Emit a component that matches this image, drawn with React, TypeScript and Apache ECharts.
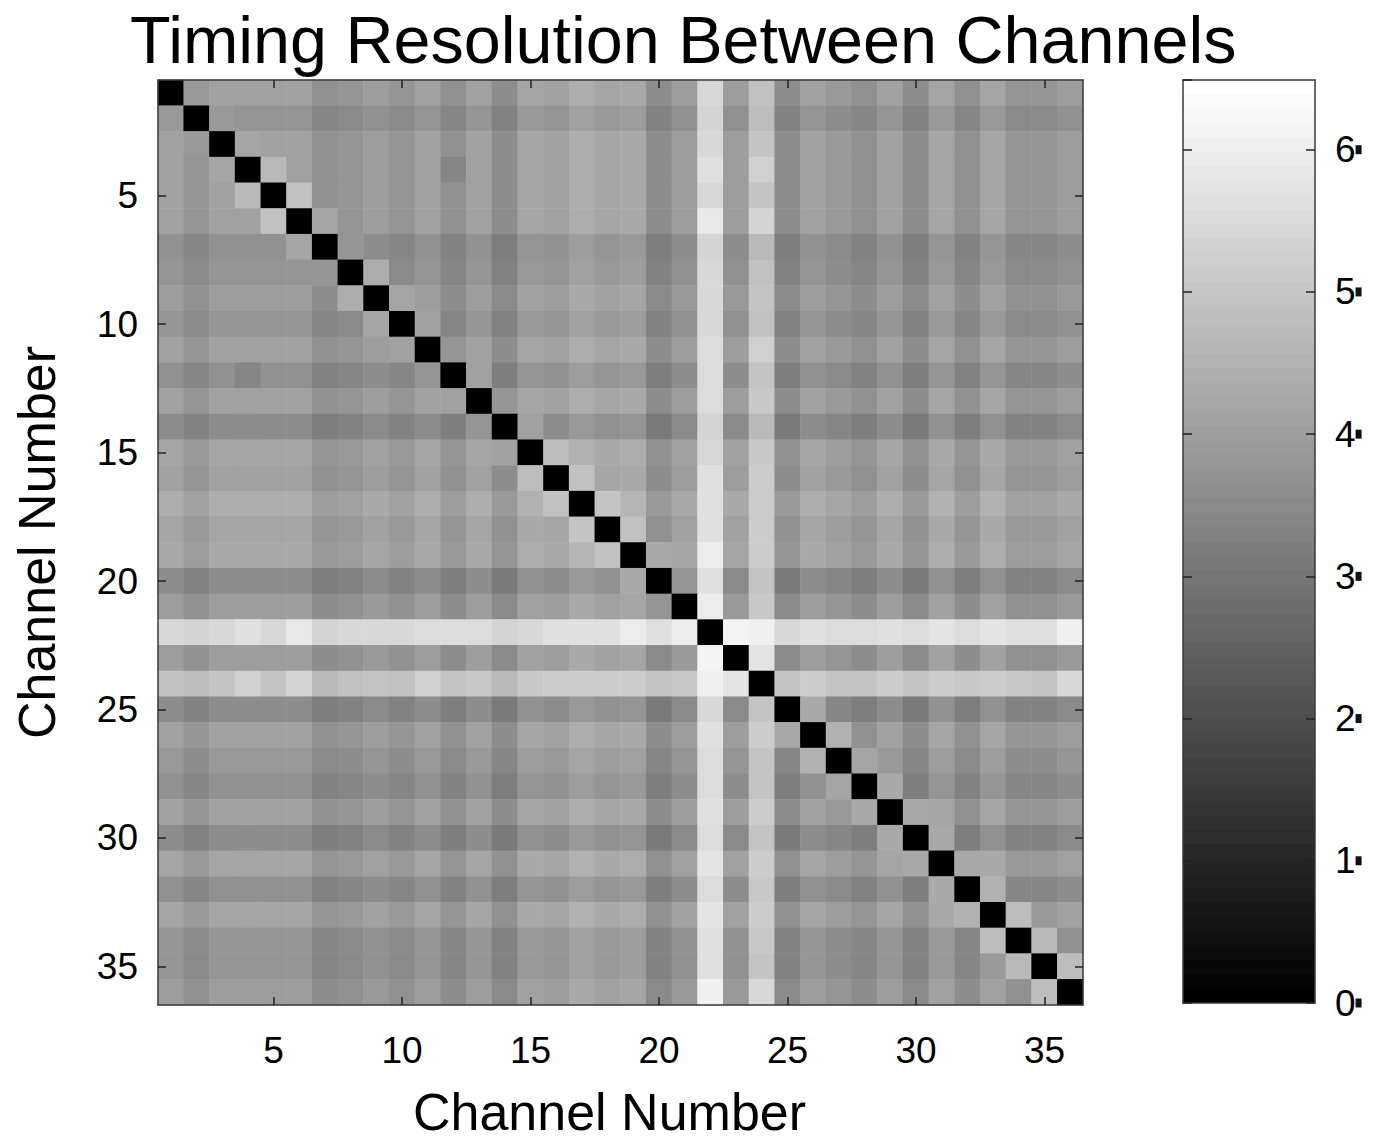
import React, { useEffect, useRef } from "react";
import * as echarts from "echarts";

const channels = [
  "1", "2", "3", "4", "5", "6", "7", "8", "9", "10", "11", "12",
  "13", "14", "15", "16", "17", "18", "19", "20", "21", "22", "23", "24",
  "25", "26", "27", "28", "29", "30", "31", "32", "33", "34", "35", "36",
];
const labeledChannels = ["5", "10", "15", "20", "25", "30", "35"];
const colorbarTicks = [0, 1, 2, 3, 4, 5, 6];
const colorMin = 0;
const colorMax = 6.49;

const r01 = [0, 3.9, 4.1, 4.1, 4.1, 4.1, 3.7, 3.8, 4.0, 3.8, 4.1, 3.7, 4.1, 3.6, 4.2, 4.1, 4.4, 4.2, 4.3, 3.6, 4.0, 5.5, 4.0, 4.9, 3.6, 4.1, 3.9, 3.7, 4.1, 3.6, 4.2, 3.7, 4.2, 3.8, 3.8, 4.0];
const r02 = [3.9, 0, 3.9, 3.8, 3.8, 3.8, 3.4, 3.5, 3.7, 3.5, 3.8, 3.4, 3.8, 3.3, 3.9, 3.8, 4.1, 3.9, 4.0, 3.3, 3.7, 5.4, 3.7, 4.8, 3.3, 3.8, 3.6, 3.4, 3.8, 3.3, 3.9, 3.4, 3.9, 3.5, 3.5, 3.7];
const r03 = [4.1, 3.9, 0, 4.2, 4.1, 4.1, 3.7, 3.8, 4.0, 3.8, 4.1, 3.7, 4.1, 3.6, 4.2, 4.1, 4.4, 4.2, 4.3, 3.6, 4.0, 5.5, 4.0, 5.0, 3.6, 4.1, 3.9, 3.7, 4.1, 3.6, 4.2, 3.7, 4.2, 3.8, 3.8, 4.0];
const r04 = [4.1, 3.8, 4.2, 0, 4.7, 4.1, 3.7, 3.8, 4.0, 3.8, 4.1, 3.4, 4.1, 3.6, 4.2, 4.1, 4.4, 4.2, 4.3, 3.6, 4.0, 5.7, 4.0, 5.3, 3.6, 4.1, 3.9, 3.7, 4.1, 3.6, 4.2, 3.7, 4.2, 3.8, 3.8, 4.0];
const r05 = [4.1, 3.8, 4.1, 4.7, 0, 4.9, 3.7, 3.8, 4.0, 3.8, 4.1, 3.7, 4.1, 3.6, 4.2, 4.1, 4.4, 4.2, 4.3, 3.6, 4.0, 5.5, 4.0, 5.0, 3.6, 4.1, 3.9, 3.7, 4.1, 3.6, 4.2, 3.7, 4.2, 3.8, 3.8, 4.0];
const r06 = [4.1, 3.8, 4.1, 4.1, 4.9, 0, 4.2, 3.8, 4.0, 3.8, 4.1, 3.7, 4.1, 3.6, 4.2, 4.1, 4.4, 4.2, 4.3, 3.6, 4.0, 5.9, 4.0, 5.4, 3.6, 4.1, 3.9, 3.7, 4.1, 3.6, 4.2, 3.7, 4.2, 3.8, 3.8, 4.0];
const r07 = [3.7, 3.4, 3.7, 3.7, 3.7, 4.2, 0, 3.8, 3.6, 3.4, 3.7, 3.3, 3.7, 3.2, 3.8, 3.7, 4.0, 3.8, 3.9, 3.2, 3.6, 5.4, 3.6, 4.7, 3.2, 3.7, 3.5, 3.3, 3.7, 3.2, 3.8, 3.3, 3.8, 3.4, 3.4, 3.6];
const r08 = [3.8, 3.5, 3.8, 3.8, 3.8, 3.8, 3.8, 0, 4.4, 3.5, 3.8, 3.4, 3.8, 3.3, 3.9, 3.8, 4.1, 3.9, 4.0, 3.3, 3.7, 5.5, 3.7, 4.9, 3.3, 3.8, 3.6, 3.4, 3.8, 3.3, 3.9, 3.4, 3.9, 3.5, 3.5, 3.7];
const r09 = [4.0, 3.7, 4.0, 4.0, 4.0, 4.0, 3.6, 4.4, 0, 4.2, 4.0, 3.6, 4.0, 3.5, 4.1, 4.0, 4.3, 4.1, 4.2, 3.5, 3.9, 5.5, 3.9, 5.0, 3.5, 4.0, 3.8, 3.6, 4.0, 3.5, 4.1, 3.6, 4.1, 3.7, 3.7, 3.9];
const r10 = [3.8, 3.5, 3.8, 3.8, 3.8, 3.8, 3.4, 3.5, 4.2, 0, 4.1, 3.4, 3.8, 3.3, 3.9, 3.8, 4.1, 3.9, 4.0, 3.3, 3.7, 5.5, 3.7, 4.9, 3.3, 3.8, 3.6, 3.4, 3.8, 3.3, 3.9, 3.4, 3.9, 3.5, 3.5, 3.7];
const r11 = [4.1, 3.8, 4.1, 4.1, 4.1, 4.1, 3.7, 3.8, 4.0, 4.1, 0, 3.8, 4.1, 3.6, 4.2, 4.1, 4.4, 4.2, 4.3, 3.6, 4.0, 5.6, 4.0, 5.3, 3.6, 4.1, 3.9, 3.7, 4.1, 3.6, 4.2, 3.7, 4.2, 3.8, 3.8, 4.0];
const r12 = [3.7, 3.4, 3.7, 3.4, 3.7, 3.7, 3.3, 3.4, 3.6, 3.4, 3.8, 0, 4.1, 3.2, 3.8, 3.7, 4.0, 3.8, 3.9, 3.2, 3.6, 5.6, 3.6, 5.0, 3.2, 3.7, 3.5, 3.3, 3.7, 3.2, 3.8, 3.3, 3.8, 3.4, 3.4, 3.6];
const r13 = [4.1, 3.8, 4.1, 4.1, 4.1, 4.1, 3.7, 3.8, 4.0, 3.8, 4.1, 4.1, 0, 3.8, 4.2, 4.1, 4.4, 4.2, 4.3, 3.6, 4.0, 5.6, 4.0, 5.1, 3.6, 4.1, 3.9, 3.7, 4.1, 3.6, 4.2, 3.7, 4.2, 3.8, 3.8, 4.0];
const r14 = [3.6, 3.3, 3.6, 3.6, 3.6, 3.6, 3.2, 3.3, 3.5, 3.3, 3.6, 3.2, 3.8, 0, 4.1, 3.6, 3.9, 3.7, 3.8, 3.1, 3.5, 5.4, 3.5, 4.7, 3.1, 3.6, 3.4, 3.2, 3.6, 3.1, 3.7, 3.2, 3.7, 3.3, 3.3, 3.5];
const r15 = [4.2, 3.9, 4.2, 4.2, 4.2, 4.2, 3.8, 3.9, 4.1, 3.9, 4.2, 3.8, 4.2, 4.1, 0, 4.8, 4.5, 4.3, 4.4, 3.7, 4.1, 5.5, 4.1, 5.1, 3.7, 4.2, 4.0, 3.8, 4.2, 3.7, 4.3, 3.8, 4.3, 3.9, 3.9, 4.1];
const r16 = [4.1, 3.8, 4.1, 4.1, 4.1, 4.1, 3.7, 3.8, 4.0, 3.8, 4.1, 3.7, 4.1, 3.6, 4.8, 0, 4.9, 4.2, 4.3, 3.6, 4.0, 5.7, 4.0, 5.2, 3.6, 4.1, 3.9, 3.7, 4.1, 3.6, 4.2, 3.7, 4.2, 3.8, 3.8, 4.0];
const r17 = [4.4, 4.1, 4.4, 4.4, 4.4, 4.4, 4.0, 4.1, 4.3, 4.1, 4.4, 4.0, 4.4, 3.9, 4.5, 4.9, 0, 5.0, 4.6, 3.9, 4.3, 5.7, 4.3, 5.2, 3.9, 4.4, 4.2, 4.0, 4.4, 3.9, 4.5, 4.0, 4.5, 4.1, 4.1, 4.3];
const r18 = [4.2, 3.9, 4.2, 4.2, 4.2, 4.2, 3.8, 3.9, 4.1, 3.9, 4.2, 3.8, 4.2, 3.7, 4.3, 4.2, 5.0, 0, 4.9, 3.7, 4.1, 5.7, 4.1, 5.2, 3.7, 4.2, 4.0, 3.8, 4.2, 3.7, 4.3, 3.8, 4.3, 3.9, 3.9, 4.1];
const r19 = [4.3, 4.0, 4.3, 4.3, 4.3, 4.3, 3.9, 4.0, 4.2, 4.0, 4.3, 3.9, 4.3, 3.8, 4.4, 4.3, 4.6, 4.9, 0, 4.3, 4.2, 6.0, 4.2, 5.2, 3.8, 4.3, 4.1, 3.9, 4.3, 3.8, 4.4, 3.9, 4.4, 4.0, 4.0, 4.2];
const r20 = [3.6, 3.3, 3.6, 3.6, 3.6, 3.6, 3.2, 3.3, 3.5, 3.3, 3.6, 3.2, 3.6, 3.1, 3.7, 3.6, 3.9, 3.7, 4.3, 0, 3.8, 5.7, 3.5, 5.0, 3.1, 3.6, 3.4, 3.2, 3.6, 3.1, 3.7, 3.2, 3.7, 3.3, 3.3, 3.5];
const r21 = [4.0, 3.7, 4.0, 4.0, 4.0, 4.0, 3.6, 3.7, 3.9, 3.7, 4.0, 3.6, 4.0, 3.5, 4.1, 4.0, 4.3, 4.1, 4.2, 3.8, 0, 6.0, 3.9, 5.1, 3.5, 4.0, 3.8, 3.6, 4.0, 3.5, 4.1, 3.6, 4.1, 3.7, 3.7, 3.9];
const r22 = [5.5, 5.4, 5.5, 5.7, 5.5, 5.9, 5.4, 5.5, 5.5, 5.5, 5.6, 5.6, 5.6, 5.4, 5.5, 5.7, 5.7, 5.7, 6.0, 5.7, 6.0, 0, 6.2, 6.1, 5.5, 5.7, 5.6, 5.6, 5.7, 5.6, 5.8, 5.6, 5.8, 5.7, 5.7, 6.1];
const r23 = [4.0, 3.7, 4.0, 4.0, 4.0, 4.0, 3.6, 3.7, 3.9, 3.7, 4.0, 3.6, 4.0, 3.5, 4.1, 4.0, 4.3, 4.1, 4.2, 3.5, 3.9, 6.2, 0, 5.8, 3.5, 4.0, 3.8, 3.6, 4.0, 3.5, 4.1, 3.6, 4.1, 3.7, 3.7, 3.9];
const r24 = [4.9, 4.8, 5.0, 5.3, 5.0, 5.4, 4.7, 4.9, 5.0, 4.9, 5.3, 5.0, 5.1, 4.7, 5.1, 5.2, 5.2, 5.2, 5.2, 5.0, 5.1, 6.1, 5.8, 0, 5.0, 5.2, 5.0, 5.0, 5.2, 5.0, 5.2, 5.1, 5.2, 5.1, 5.0, 5.5];
const r25 = [3.6, 3.3, 3.6, 3.6, 3.6, 3.6, 3.2, 3.3, 3.5, 3.3, 3.6, 3.2, 3.6, 3.1, 3.7, 3.6, 3.9, 3.7, 3.8, 3.1, 3.5, 5.5, 3.5, 5.0, 0, 4.3, 3.4, 3.2, 3.6, 3.1, 3.7, 3.2, 3.7, 3.3, 3.3, 3.5];
const r26 = [4.1, 3.8, 4.1, 4.1, 4.1, 4.1, 3.7, 3.8, 4.0, 3.8, 4.1, 3.7, 4.1, 3.6, 4.2, 4.1, 4.4, 4.2, 4.3, 3.6, 4.0, 5.7, 4.0, 5.2, 4.3, 0, 4.5, 3.7, 4.1, 3.6, 4.2, 3.7, 4.2, 3.8, 3.8, 4.0];
const r27 = [3.9, 3.6, 3.9, 3.9, 3.9, 3.9, 3.5, 3.6, 3.8, 3.6, 3.9, 3.5, 3.9, 3.4, 4.0, 3.9, 4.2, 4.0, 4.1, 3.4, 3.8, 5.6, 3.8, 5.0, 3.4, 4.5, 0, 4.2, 3.9, 3.4, 4.0, 3.5, 4.0, 3.6, 3.6, 3.8];
const r28 = [3.7, 3.4, 3.7, 3.7, 3.7, 3.7, 3.3, 3.4, 3.6, 3.4, 3.7, 3.3, 3.7, 3.2, 3.8, 3.7, 4.0, 3.8, 3.9, 3.2, 3.6, 5.6, 3.6, 5.0, 3.2, 3.7, 4.2, 0, 4.3, 3.2, 3.8, 3.3, 3.8, 3.4, 3.4, 3.6];
const r29 = [4.1, 3.8, 4.1, 4.1, 4.1, 4.1, 3.7, 3.8, 4.0, 3.8, 4.1, 3.7, 4.1, 3.6, 4.2, 4.1, 4.4, 4.2, 4.3, 3.6, 4.0, 5.7, 4.0, 5.2, 3.6, 4.1, 3.9, 4.3, 0, 4.3, 4.2, 3.7, 4.2, 3.8, 3.8, 4.0];
const r30 = [3.6, 3.3, 3.6, 3.6, 3.6, 3.6, 3.2, 3.3, 3.5, 3.3, 3.6, 3.2, 3.6, 3.1, 3.7, 3.6, 3.9, 3.7, 3.8, 3.1, 3.5, 5.6, 3.5, 5.0, 3.1, 3.6, 3.4, 3.2, 4.3, 0, 4.3, 3.2, 3.7, 3.3, 3.3, 3.5];
const r31 = [4.2, 3.9, 4.2, 4.2, 4.2, 4.2, 3.8, 3.9, 4.1, 3.9, 4.2, 3.8, 4.2, 3.7, 4.3, 4.2, 4.5, 4.3, 4.4, 3.7, 4.1, 5.8, 4.1, 5.2, 3.7, 4.2, 4.0, 3.8, 4.2, 4.3, 0, 4.3, 4.3, 3.9, 3.9, 4.1];
const r32 = [3.7, 3.4, 3.7, 3.7, 3.7, 3.7, 3.3, 3.4, 3.6, 3.4, 3.7, 3.3, 3.7, 3.2, 3.8, 3.7, 4.0, 3.8, 3.9, 3.2, 3.6, 5.6, 3.6, 5.1, 3.2, 3.7, 3.5, 3.3, 3.7, 3.2, 4.3, 0, 4.5, 3.4, 3.4, 3.6];
const r33 = [4.2, 3.9, 4.2, 4.2, 4.2, 4.2, 3.8, 3.9, 4.1, 3.9, 4.2, 3.8, 4.2, 3.7, 4.3, 4.2, 4.5, 4.3, 4.4, 3.7, 4.1, 5.8, 4.1, 5.2, 3.7, 4.2, 4.0, 3.8, 4.2, 3.7, 4.3, 4.5, 0, 4.8, 3.9, 4.1];
const r34 = [3.8, 3.5, 3.8, 3.8, 3.8, 3.8, 3.4, 3.5, 3.7, 3.5, 3.8, 3.4, 3.8, 3.3, 3.9, 3.8, 4.1, 3.9, 4.0, 3.3, 3.7, 5.7, 3.7, 5.1, 3.3, 3.8, 3.6, 3.4, 3.8, 3.3, 3.9, 3.4, 4.8, 0, 4.7, 3.7];
const r35 = [3.8, 3.5, 3.8, 3.8, 3.8, 3.8, 3.4, 3.5, 3.7, 3.5, 3.8, 3.4, 3.8, 3.3, 3.9, 3.8, 4.1, 3.9, 4.0, 3.3, 3.7, 5.7, 3.7, 5.0, 3.3, 3.8, 3.6, 3.4, 3.8, 3.3, 3.9, 3.4, 3.9, 4.7, 0, 4.8];
const r36 = [4.0, 3.7, 4.0, 4.0, 4.0, 4.0, 3.6, 3.7, 3.9, 3.7, 4.0, 3.6, 4.0, 3.5, 4.1, 4.0, 4.3, 4.1, 4.2, 3.5, 3.9, 6.1, 3.9, 5.5, 3.5, 4.0, 3.8, 3.6, 4.0, 3.5, 4.1, 3.6, 4.1, 3.7, 4.8, 0];

const resolution = [
  r01, r02, r03, r04, r05, r06, r07, r08, r09, r10, r11, r12,
  r13, r14, r15, r16, r17, r18, r19, r20, r21, r22, r23, r24,
  r25, r26, r27, r28, r29, r30, r31, r32, r33, r34, r35, r36,
];

const FONT = "'Liberation Sans', Arial, Helvetica, sans-serif";
const FRAME = "#3a3a3a";

export default function App() {
  const ref = useRef<HTMLDivElement>(null);

  useEffect(() => {
    const el = ref.current;
    if (!el) return;
    const chart = echarts.init(el, null, { renderer: "svg" });

    const cells: number[][] = [];
    resolution.forEach((row, i) => {
      row.forEach((v, j) => {
        cells.push([j, i, v]);
      });
    });

    const showAt = (index: number) => labeledChannels.includes(channels[index]);

    // 64-step gray colormap like MATLAB's colorbar
    const stops: { offset: number; color: string }[] = [];
    const steps = 64;
    for (let k = 0; k < steps; k++) {
      const g = Math.round((k / (steps - 1)) * 255);
      const c = `rgb(${g},${g},${g})`;
      stops.push({ offset: k / steps, color: c });
      stops.push({ offset: (k + 1) / steps, color: c });
    }

    const lineStyle = { color: FRAME, width: 1.5 };
    const tickStyle = { color: "#222", width: 1.5 };

    const catAxisBase = {
      type: "category" as const,
      data: channels,
      gridIndex: 0,
      boundaryGap: true,
      axisLine: { show: true, onZero: false, lineStyle },
      axisTick: {
        show: true,
        inside: true,
        length: 8,
        alignWithLabel: true,
        interval: (index: number) => showAt(index),
        lineStyle: tickStyle,
      },
      splitLine: { show: false },
      z: 10,
    };

    const option: any = {
      animation: false,
      backgroundColor: "#ffffff",
      title: {
        text: "Timing Resolution Between Channels",
        left: 130,
        top: 6,
        padding: 0,
        textStyle: {
          fontFamily: FONT,
          fontSize: 66.5,
          fontWeight: "normal",
          color: "#000",
        },
      },
      grid: [
        {
          left: 158,
          top: 80,
          width: 925,
          height: 925,
          containLabel: false,
          outerBoundsMode: "none",
        },
        {
          left: 1183,
          top: 80,
          width: 132,
          height: 923,
          containLabel: false,
          outerBoundsMode: "none",
        },
      ],
      xAxis: [
        {
          ...catAxisBase,
          position: "bottom",
          name: "Channel Number",
          nameLocation: "middle",
          nameGap: 85,
          nameTextStyle: {
            fontFamily: FONT,
            fontSize: 52,
            lineHeight: 44,
            color: "#000",
            padding: [0, 22, 0, 0],
          },
          axisLabel: {
            show: true,
            interval: (index: number) => showAt(index),
            fontFamily: FONT,
            fontSize: 37,
            color: "#000",
            margin: 27,
          },
        },
        {
          ...catAxisBase,
          position: "top",
          axisLabel: { show: false },
        },
        {
          type: "value",
          gridIndex: 1,
          min: 0,
          max: 1,
          position: "bottom",
          axisLine: { show: true, onZero: false, lineStyle },
          axisTick: { show: false },
          axisLabel: { show: false },
          splitLine: { show: false },
          z: 10,
        },
        {
          type: "value",
          gridIndex: 1,
          min: 0,
          max: 1,
          position: "top",
          axisLine: { show: true, onZero: false, lineStyle },
          axisTick: { show: false },
          axisLabel: { show: false },
          splitLine: { show: false },
          z: 10,
        },
      ],
      yAxis: [
        {
          ...catAxisBase,
          inverse: true,
          position: "left",
          name: "Channel Number",
          nameLocation: "middle",
          nameRotate: 90,
          nameGap: 95,
          nameTextStyle: {
            fontFamily: FONT,
            fontSize: 52,
            color: "#000",
          },
          axisLabel: {
            show: true,
            interval: (index: number) => showAt(index),
            fontFamily: FONT,
            fontSize: 37,
            color: "#000",
            margin: 20,
          },
        },
        {
          ...catAxisBase,
          inverse: true,
          position: "right",
          axisLabel: { show: false },
        },
        {
          type: "value",
          gridIndex: 1,
          min: colorMin,
          max: colorMax,
          interval: 1,
          position: "right",
          axisLine: { show: true, onZero: false, lineStyle },
          axisTick: { show: true, inside: true, length: 9, lineStyle: tickStyle },
          axisLabel: {
            show: true,
            showMaxLabel: false,
            fontFamily: FONT,
            fontSize: 37,
            color: "#000",
            margin: 20,
            formatter: (v: number) =>
              colorbarTicks.includes(v) ? `${v}{cut| }` : "",
            rich: {
              cut: { backgroundColor: "#111", width: 6, height: 9 },
            },
          },
          splitLine: { show: false },
          z: 10,
        },
        {
          type: "value",
          gridIndex: 1,
          min: colorMin,
          max: colorMax,
          interval: 1,
          position: "left",
          axisLine: { show: true, onZero: false, lineStyle },
          axisTick: { show: true, inside: true, length: 9, lineStyle: tickStyle },
          axisLabel: { show: false },
          splitLine: { show: false },
          z: 10,
        },
      ],
      visualMap: {
        type: "continuous",
        show: false,
        min: colorMin,
        max: colorMax,
        dimension: 2,
        seriesIndex: 0,
        inRange: { color: ["#000000", "#ffffff"] },
      },
      graphic: [
        {
          type: "rect",
          z: 0,
          silent: true,
          shape: { x: 1183, y: 80, width: 132, height: 923 },
          style: {
            fill: new echarts.graphic.LinearGradient(0, 1, 0, 0, stops),
          },
        },
      ],
      series: [
        {
          type: "heatmap",
          xAxisIndex: 0,
          yAxisIndex: 0,
          data: cells,
          itemStyle: { borderWidth: 0 },
          emphasis: { disabled: true },
          progressive: 0,
          z: 2,
        },
      ],
    };

    chart.setOption(option);
    return () => chart.dispose();
  }, []);

  return (
    <div
      ref={ref}
      style={{
        position: "absolute",
        left: 0,
        top: 0,
        width: 1378,
        height: 1144,
        background: "#fff",
      }}
    />
  );
}
